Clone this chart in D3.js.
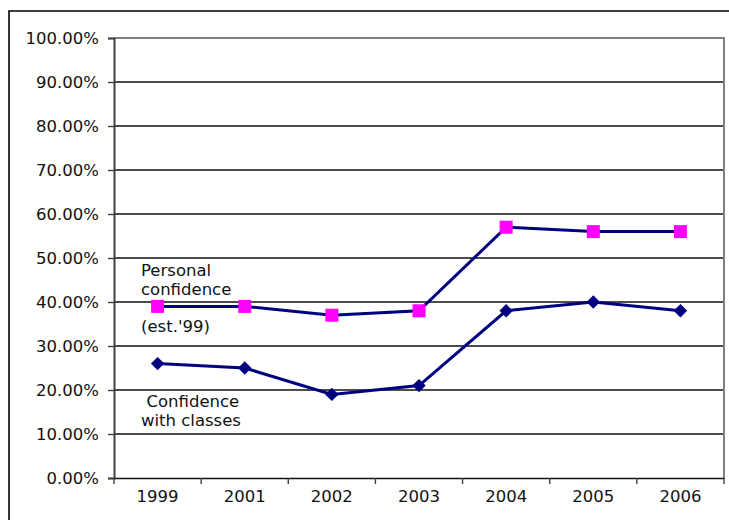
<!DOCTYPE html>
<html>
<head>
<meta charset="utf-8">
<script src="https://cdn.jsdelivr.net/npm/d3@7"></script>
<style>
  html, body { margin: 0; padding: 0; background: #fff; }
  svg { display: block; font-family: "DejaVu Sans", Verdana, sans-serif; }
</style>
</head>
<body>
<svg id="chart" width="729" height="520"></svg>
<script>
// Survey years and confidence shares
const years = ["1999", "2001", "2002", "2003", "2004", "2005", "2006"];
const personalConfidence = [0.39, 0.39, 0.37, 0.38, 0.57, 0.56, 0.56];
const classConfidence = [0.26, 0.25, 0.19, 0.21, 0.38, 0.40, 0.38];
const yTicks = [0, 0.1, 0.2, 0.3, 0.4, 0.5, 0.6, 0.7, 0.8, 0.9, 1.0];

const svg = d3.select("#chart");
const plot = { left: 114, right: 724, top: 38, bottom: 478 };
const fontSize = "16.5px";

// Outer frame (extends past the right and bottom edges)
svg.append("path")
  .attr("d", `M9,${530} L9,11 L740,11`)
  .attr("fill", "none")
  .attr("stroke", "#000")
  .attr("stroke-width", 1.6);

const x = d3.scaleBand().domain(years).range([plot.left, plot.right]);
const y = d3.scaleLinear().domain([0, 1]).range([plot.bottom, plot.top]);

// Horizontal gridlines
svg.append("g")
  .selectAll("line")
  .data(yTicks.filter(t => t > 0 && t < 1))
  .join("line")
  .attr("x1", plot.left).attr("x2", plot.right)
  .attr("y1", d => y(d)).attr("y2", d => y(d))
  .attr("stroke", "#111")
  .attr("stroke-width", 1.5);

// Plot area border: top and right in grey
svg.append("path")
  .attr("d", `M${plot.left},${y(1)} L${plot.right},${y(1)} L${plot.right},${plot.bottom}`)
  .attr("fill", "none")
  .attr("stroke", "#808080")
  .attr("stroke-width", 2);

// Y axis
const yAxis = d3.axisLeft(y)
  .tickValues(yTicks)
  .tickFormat(d => (d * 100).toFixed(2) + "%")
  .tickSize(6)
  .tickPadding(9);
const gy = svg.append("g")
  .attr("transform", `translate(${plot.left},0)`)
  .call(yAxis);
gy.select(".domain").attr("stroke", "#404040").attr("stroke-width", 2);
gy.selectAll(".tick line").attr("stroke", "#404040").attr("stroke-width", 1.4);
gy.selectAll(".tick text")
  .attr("fill", "#111")
  .style("font-size", fontSize)
  .style("font-family", "DejaVu Sans, Verdana, sans-serif");

// X axis: ticks sit between categories
const xAxis = d3.axisBottom(x).tickSize(0).tickPadding(12);
const gx = svg.append("g")
  .attr("transform", `translate(0,${plot.bottom})`)
  .call(xAxis);
gx.select(".domain").attr("stroke", "#111").attr("stroke-width", 1.6);
gx.selectAll(".tick text")
  .attr("fill", "#111")
  .style("font-size", fontSize)
  .style("font-family", "DejaVu Sans, Verdana, sans-serif");

const boundaries = years.map(d => x(d)).concat([x(years[years.length - 1]) + x.bandwidth()]);
svg.append("g")
  .selectAll("line")
  .data(boundaries)
  .join("line")
  .attr("x1", d => d).attr("x2", d => d)
  .attr("y1", plot.bottom).attr("y2", plot.bottom + 6)
  .attr("stroke", "#404040")
  .attr("stroke-width", 1.4);

const cx = d => x(d) + x.bandwidth() / 2;
const line = d3.line()
  .x((d, i) => cx(years[i]))
  .y(d => y(d));

// Confidence with classes: navy line with diamond markers
svg.append("path")
  .datum(classConfidence)
  .attr("d", line)
  .attr("fill", "none")
  .attr("stroke", "#000080")
  .attr("stroke-width", 3);
svg.append("g")
  .selectAll("path")
  .data(classConfidence)
  .join("path")
  .attr("d", d3.symbol(d3.symbolDiamond2, 115))
  .attr("transform", (d, i) => `translate(${cx(years[i])},${y(d)})`)
  .attr("fill", "#000080");

// Personal confidence: navy line with magenta square markers
svg.append("path")
  .datum(personalConfidence)
  .attr("d", line)
  .attr("fill", "none")
  .attr("stroke", "#000080")
  .attr("stroke-width", 3);
const sq = 13;
svg.append("g")
  .selectAll("rect")
  .data(personalConfidence)
  .join("rect")
  .attr("x", (d, i) => cx(years[i]) - sq / 2)
  .attr("y", d => y(d) - sq / 2)
  .attr("width", sq)
  .attr("height", sq)
  .attr("fill", "#ff00ff");

// Series labels
const labels = [
  { text: "Personal", x: 141, y: 275.5 },
  { text: "confidence", x: 141, y: 294.5 },
  { text: "(est.'99)", x: 141, y: 331.5 },
  { text: "Confidence", x: 146.5, y: 406.5 },
  { text: "with classes", x: 141, y: 425.5 }
];
svg.append("g")
  .selectAll("text")
  .data(labels)
  .join("text")
  .attr("x", d => d.x)
  .attr("y", d => d.y)
  .attr("fill", "#111")
  .style("font-size", fontSize)
  .text(d => d.text);
</script>
</body>
</html>
